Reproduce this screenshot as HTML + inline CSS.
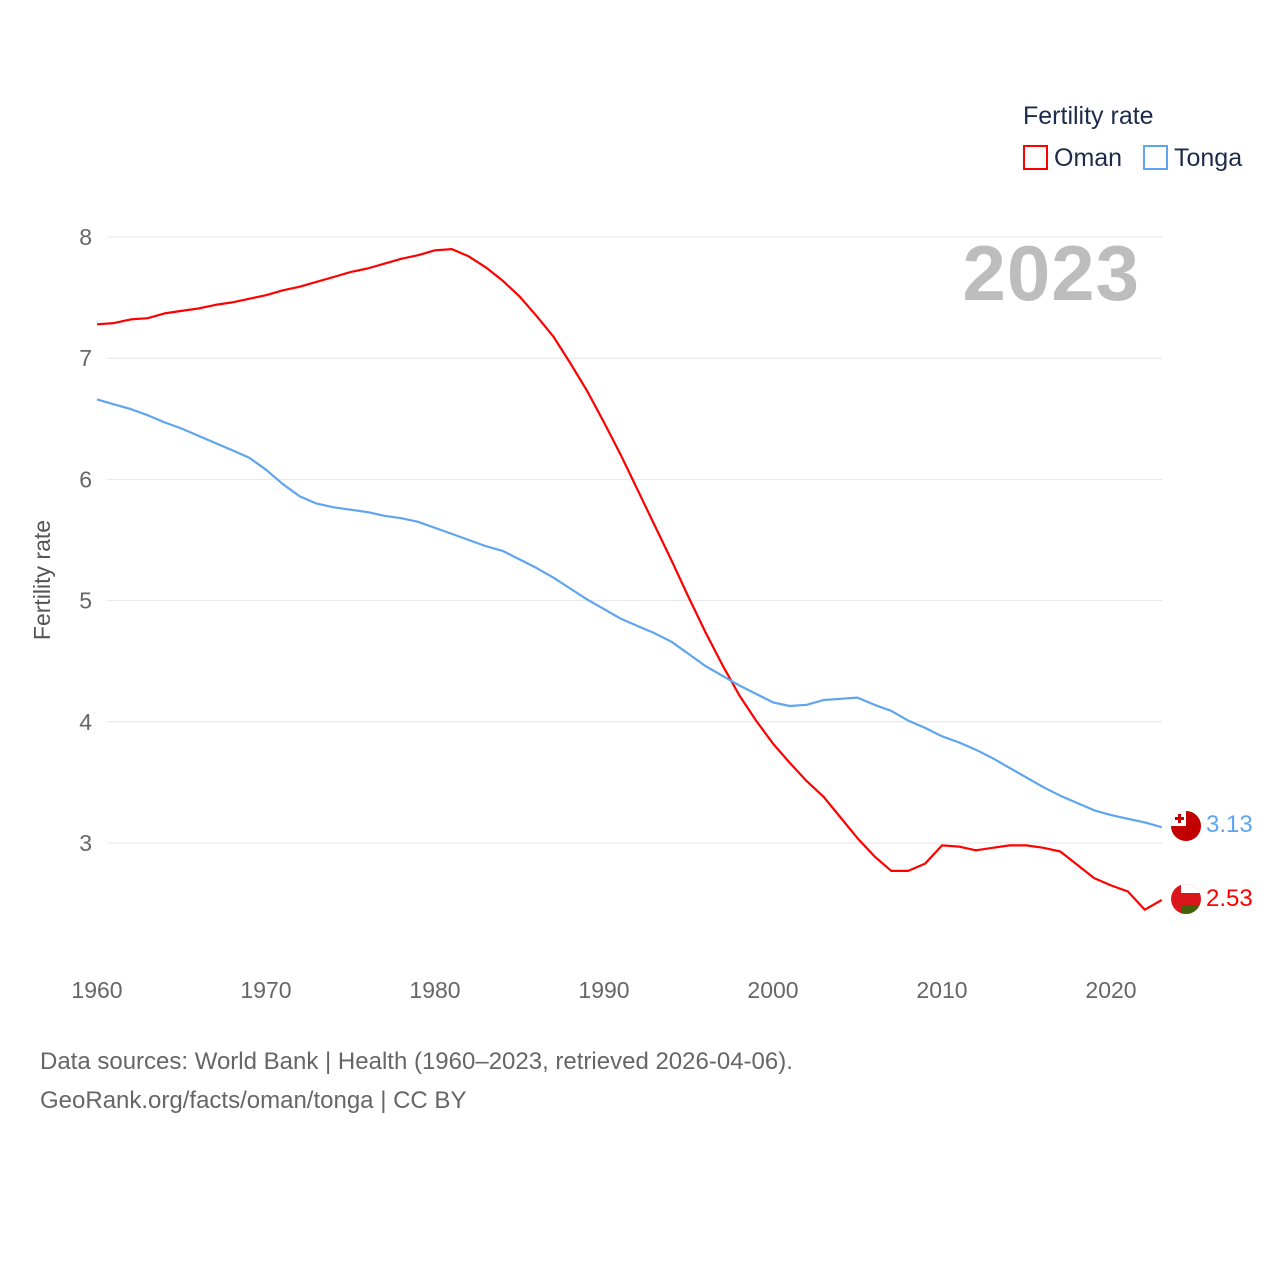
<!DOCTYPE html>
<html><head><meta charset="utf-8"><style>
body{margin:0;background:#fff;font-family:"Liberation Sans",sans-serif;}
svg text{font-family:"Liberation Sans",sans-serif;}
</style></head><body>
<svg id="chart" width="1280" height="1280" viewBox="0 0 1280 1280">
<defs>
<clipPath id="cT"><circle cx="1186" cy="826" r="15"/></clipPath>
<clipPath id="cO"><circle cx="1186" cy="899" r="15"/></clipPath>
</defs>
<rect width="1280" height="1280" fill="#fff"/>
<g id="grid"></g>
<g id="yticks"></g>
<g id="xticks"></g>
<text x="1140" y="300" text-anchor="end" font-size="78" font-weight="bold" letter-spacing="1" fill="#bdbdbd">2023</text>
<text transform="translate(50,580) rotate(-90)" text-anchor="middle" font-size="23" fill="#555">Fertility rate</text>
<text x="1023" y="124" font-size="25" fill="#1d2b4a">Fertility rate</text>
<g><rect x="1024" y="146" width="23" height="23" fill="none" stroke="#f00" stroke-width="2"/><text x="1054" y="166" font-size="25" fill="#1d2b4a">Oman</text></g>
<g><rect x="1144" y="146" width="23" height="23" fill="none" stroke="#5ea5ee" stroke-width="2"/><text x="1174" y="166" font-size="25" fill="#1d2b4a">Tonga</text></g>
<g id="series"></g>
<g clip-path="url(#cT)">
<rect x="1170" y="810" width="32" height="32" fill="#c10000"/>
<rect x="1170" y="810" width="16" height="16" fill="#fff"/>
<rect x="1178" y="814" width="3" height="9" fill="#c10000"/><rect x="1175" y="817" width="9" height="3" fill="#c10000"/>
</g>
<g clip-path="url(#cO)">
<rect x="1170" y="883" width="32" height="32" fill="#db161b"/>
<rect x="1181" y="883" width="21" height="10" fill="#fff"/>
<rect x="1181" y="905" width="21" height="10" fill="#008000" opacity="0.7"/>
</g>
<text x="40" y="1069" font-size="24" fill="#666">Data sources: World Bank | Health (1960–2023, retrieved 2026-04-06).</text>
<text x="40" y="1108" font-size="24" fill="#666">GeoRank.org/facts/oman/tonga | CC BY</text>
</svg>
<script>
const years=[];for(let y=1960;y<=2023;y++)years.push(y);
const omanValues=[7.28,7.29,7.32,7.33,7.37,7.39,7.41,7.44,7.46,7.49,7.52,7.56,7.59,7.63,7.67,7.71,7.74,7.78,7.82,7.85,7.89,7.90,7.84,7.75,7.64,7.51,7.35,7.18,6.96,6.73,6.47,6.20,5.91,5.62,5.33,5.03,4.74,4.47,4.22,4.01,3.82,3.66,3.51,3.38,3.21,3.04,2.89,2.77,2.77,2.83,2.98,2.97,2.94,2.96,2.98,2.98,2.96,2.93,2.82,2.71,2.65,2.60,2.45,2.53];
const tongaValues=[6.66,6.62,6.58,6.53,6.47,6.42,6.36,6.30,6.24,6.18,6.08,5.96,5.86,5.80,5.77,5.75,5.73,5.70,5.68,5.65,5.60,5.55,5.50,5.45,5.41,5.34,5.27,5.19,5.10,5.01,4.93,4.85,4.79,4.73,4.66,4.56,4.46,4.38,4.30,4.23,4.16,4.13,4.14,4.18,4.19,4.20,4.14,4.09,4.01,3.95,3.88,3.83,3.77,3.70,3.62,3.54,3.46,3.39,3.33,3.27,3.23,3.20,3.17,3.13];
const yTicks=[3,4,5,6,7,8];
const xTicks=[1960,1970,1980,1990,2000,2010,2020];
const NS='http://www.w3.org/2000/svg';
const x=y=>97+(y-1960)*(1014/60);
const yv=v=>843-(v-3)*121.2;
function mk(t,a,p){const e=document.createElementNS(NS,t);for(const k in a)e.setAttribute(k,a[k]);p.appendChild(e);return e;}
const grid=document.getElementById('grid'),yt=document.getElementById('yticks'),xt=document.getElementById('xticks'),ser=document.getElementById('series');
yTicks.forEach(v=>{
 const l=mk('line',{x1:107,x2:1162,y1:yv(v),y2:yv(v),stroke:'#e6e6e6','stroke-width':1},grid);
 
 
 const t=mk('text',{x:92,y:yv(v)+8,'text-anchor':'end','font-size':23,fill:'#666'},yt);t.textContent=v;
 
 
});
xTicks.forEach(v=>{
 const t=mk('text',{x:x(v),y:998,'text-anchor':'middle','font-size':23,fill:'#666'},xt);t.textContent=v;
 
 
});
function line(vals,color,name,dy){
 const d=vals.map((v,i)=>(i?'L':'M')+x(years[i]).toFixed(1)+','+yv(v).toFixed(1)).join('');
 const p=mk('path',{d:d,fill:'none',stroke:color,'stroke-width':2.2,'stroke-linejoin':'round'},ser);
 
 
 const lv=vals[vals.length-1],cy=yv(lv);
 const t=mk('text',{x:1206,y:cy+dy,'font-size':24,fill:color},ser);t.textContent=lv.toFixed(2);
 
 
}
line(omanValues,'#ff0000','oman',6);
line(tongaValues,'#5ea5ee','tonga',5);
</script>
</body></html>
